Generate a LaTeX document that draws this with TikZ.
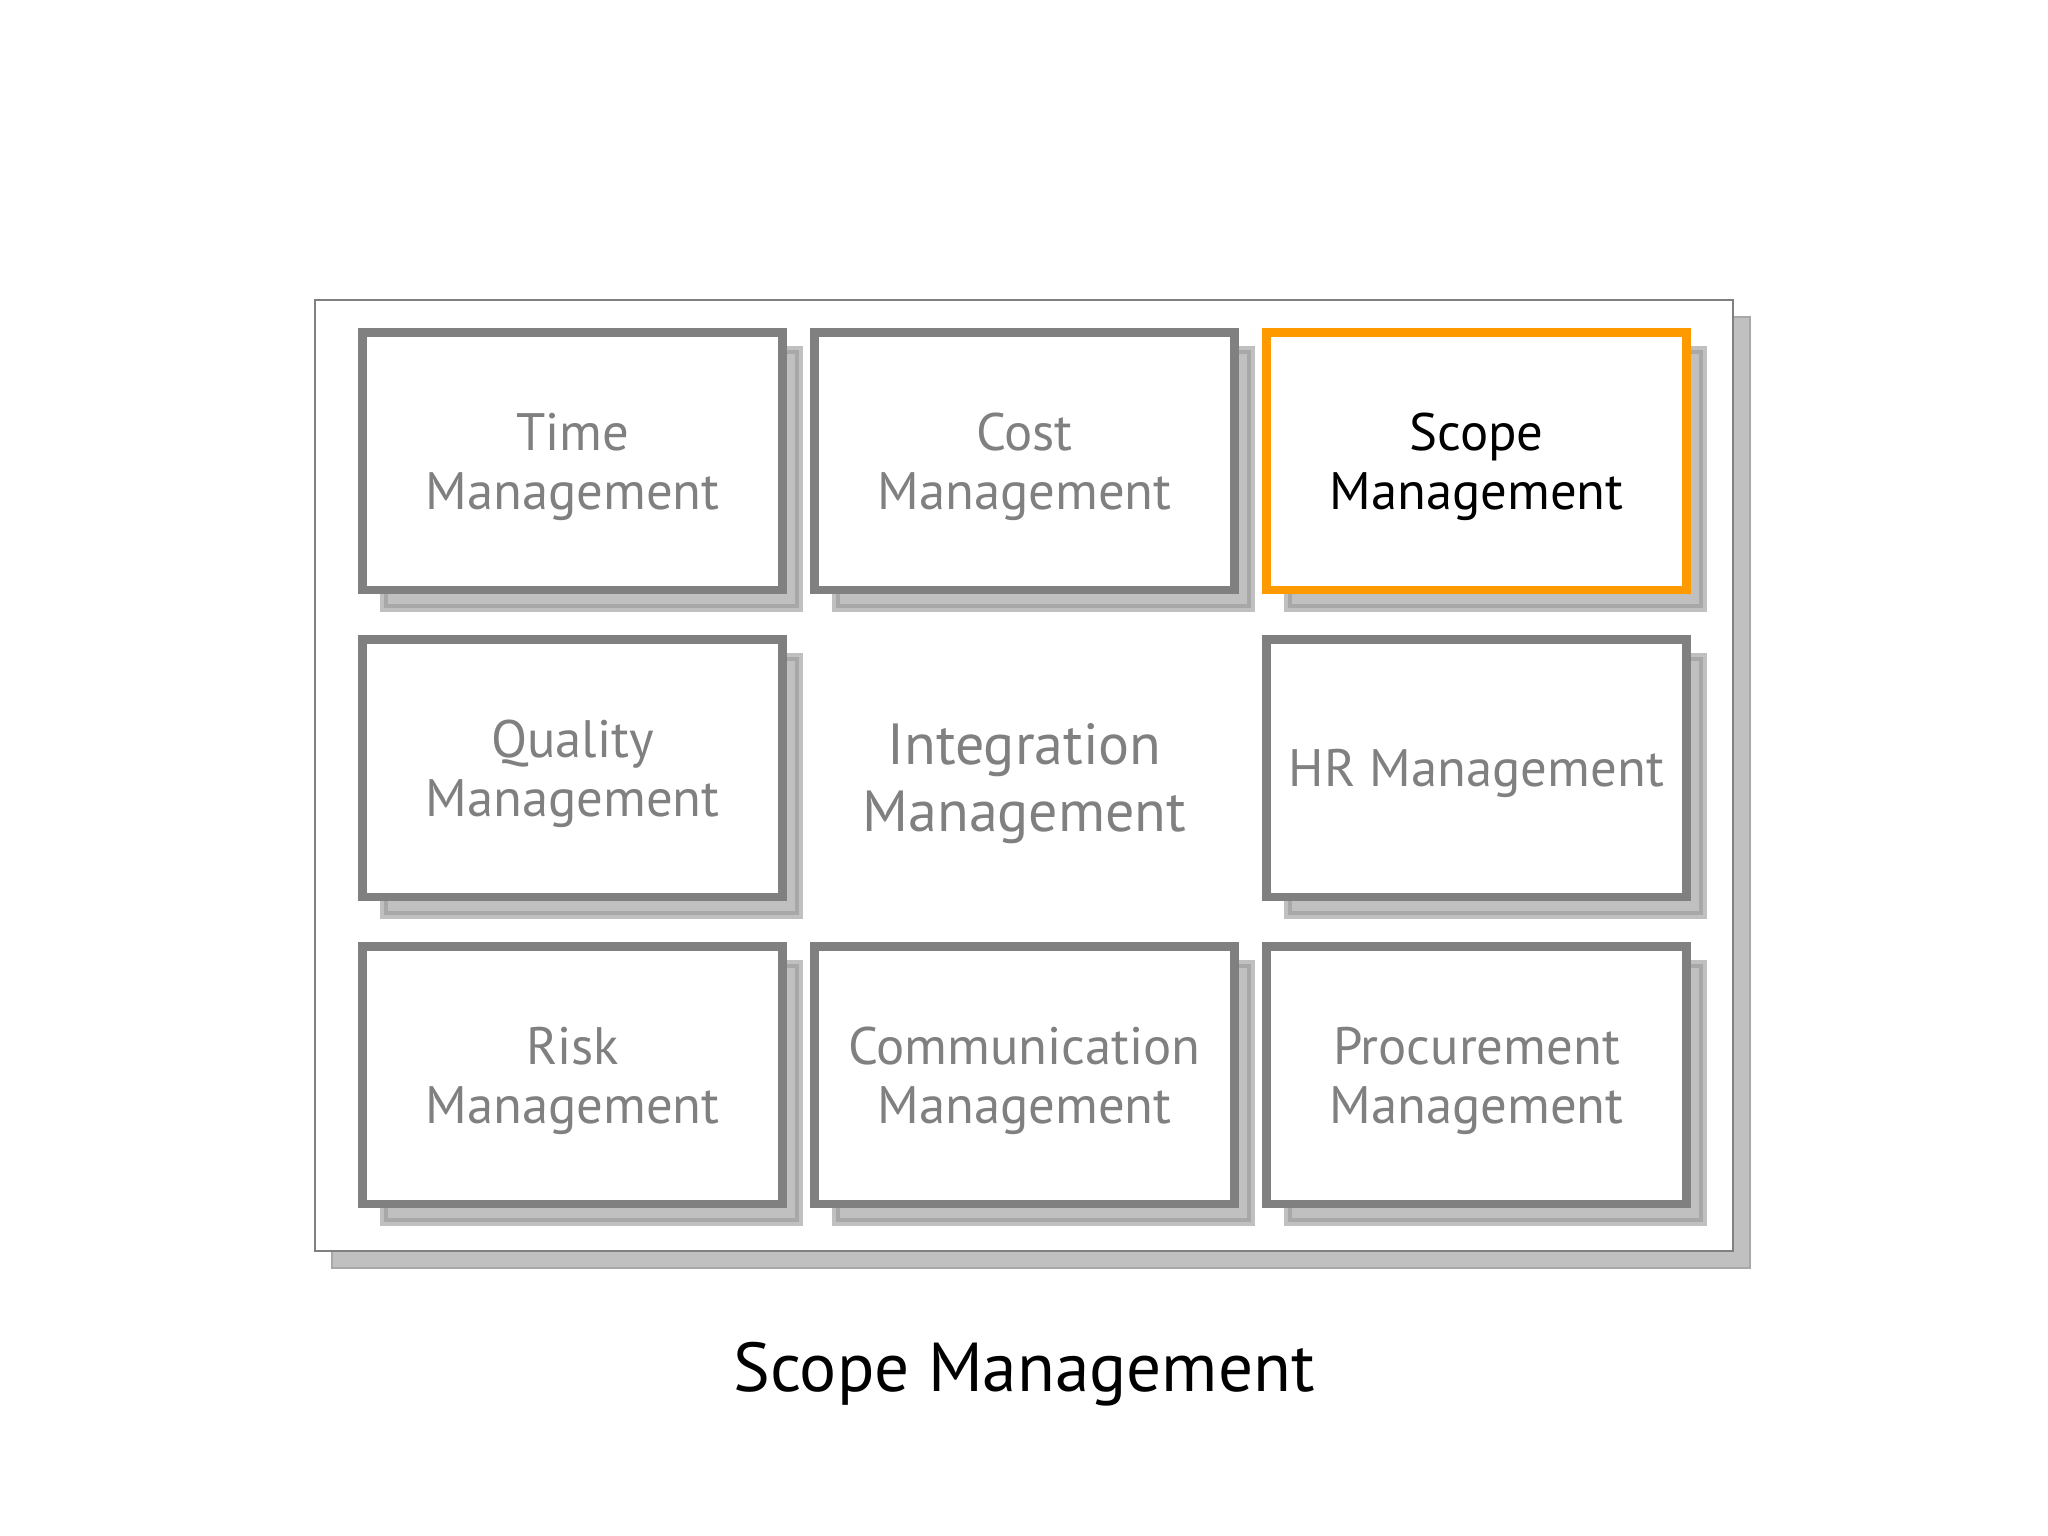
\documentclass[tikz,border=0pt]{standalone}
\usepackage{fontspec}
\setmainfont{PT Sans}
\usetikzlibrary{positioning}
\definecolor{boxgray}{HTML}{808080}
\definecolor{shadowgray}{HTML}{C0C0C0}
\definecolor{shadowline}{HTML}{A8A8A8}
\definecolor{scopeorange}{HTML}{FF9900}
\tikzset{
  areabox/.style={rectangle, draw=boxgray, fill=white, line width=2.36pt, minimum width=4.2cm, minimum height=2.575cm, inner sep=0pt, outer sep=0pt, align=center, text depth=0pt, text=boxgray, font=\fontsize{15}{16.6}\selectfont},
  areashadow/.style={rectangle, fill=shadowgray, draw=shadowline, line width=1.1pt, preaction={draw=shadowgray, line width=3.4pt}, minimum width=4.11cm, minimum height=2.54cm, inner sep=0pt, outer sep=0pt},
  scopebox/.style={areabox, draw=scopeorange, text=black},
  framebox/.style={rectangle, draw=boxgray, fill=white, line width=0.45pt, minimum width=14.18cm, minimum height=9.51cm, inner sep=0pt, outer sep=0pt},
  frameshadow/.style={framebox, draw=shadowline, fill=shadowgray}
}

\begin{document}
\begin{tikzpicture}
\useasboundingbox (0,0) rectangle (20.48,-15.36);
\node[frameshadow] (frameshade) at (10.41,-7.925) {};
\node[framebox] (frame) at (10.24,-7.755) {};
\node[areashadow] (timeshade) at (5.915,-4.7925) {};
\node[areashadow] (costshade) at (10.435,-4.7925) {};
\node[areashadow] (scopeshade) at (14.955,-4.7925) {};
\node[areashadow] (qualityshade) at (5.915,-7.8625) {};
\node[areashadow] (hrshade) at (14.955,-7.8625) {};
\node[areashadow] (riskshade) at (5.915,-10.9325) {};
\node[areashadow] (commshade) at (10.435,-10.9325) {};
\node[areashadow] (procshade) at (14.955,-10.9325) {};
\node[areabox] (time) at (5.725,-4.6125) {Time\\Management};
\node[areabox] (cost) at (10.245,-4.6125) {Cost\\Management};
\node[scopebox] (scope) at (14.765,-4.6125) {Scope\\Management};
\node[areabox] (quality) at (5.725,-7.6825) {Quality\\Management};
\node[align=center, text=boxgray, font=\fontsize{16.5}{19}\selectfont] (integration) at (10.245,-7.84) {Integration\\Management};
\node[areabox] (hr) at (14.765,-7.6825) {HR Management};
\node[areabox] (risk) at (5.725,-10.7525) {Risk\\Management};
\node[areabox] (comm) at (10.245,-10.7525) {Communication\\Management};
\node[areabox] (proc) at (14.765,-10.7525) {Procurement\\Management};
\node[below=0.9cm of frame, inner sep=0pt, font=\fontsize{19.7}{22}\selectfont] (caption) {Scope Management};
\end{tikzpicture}
\end{document}
